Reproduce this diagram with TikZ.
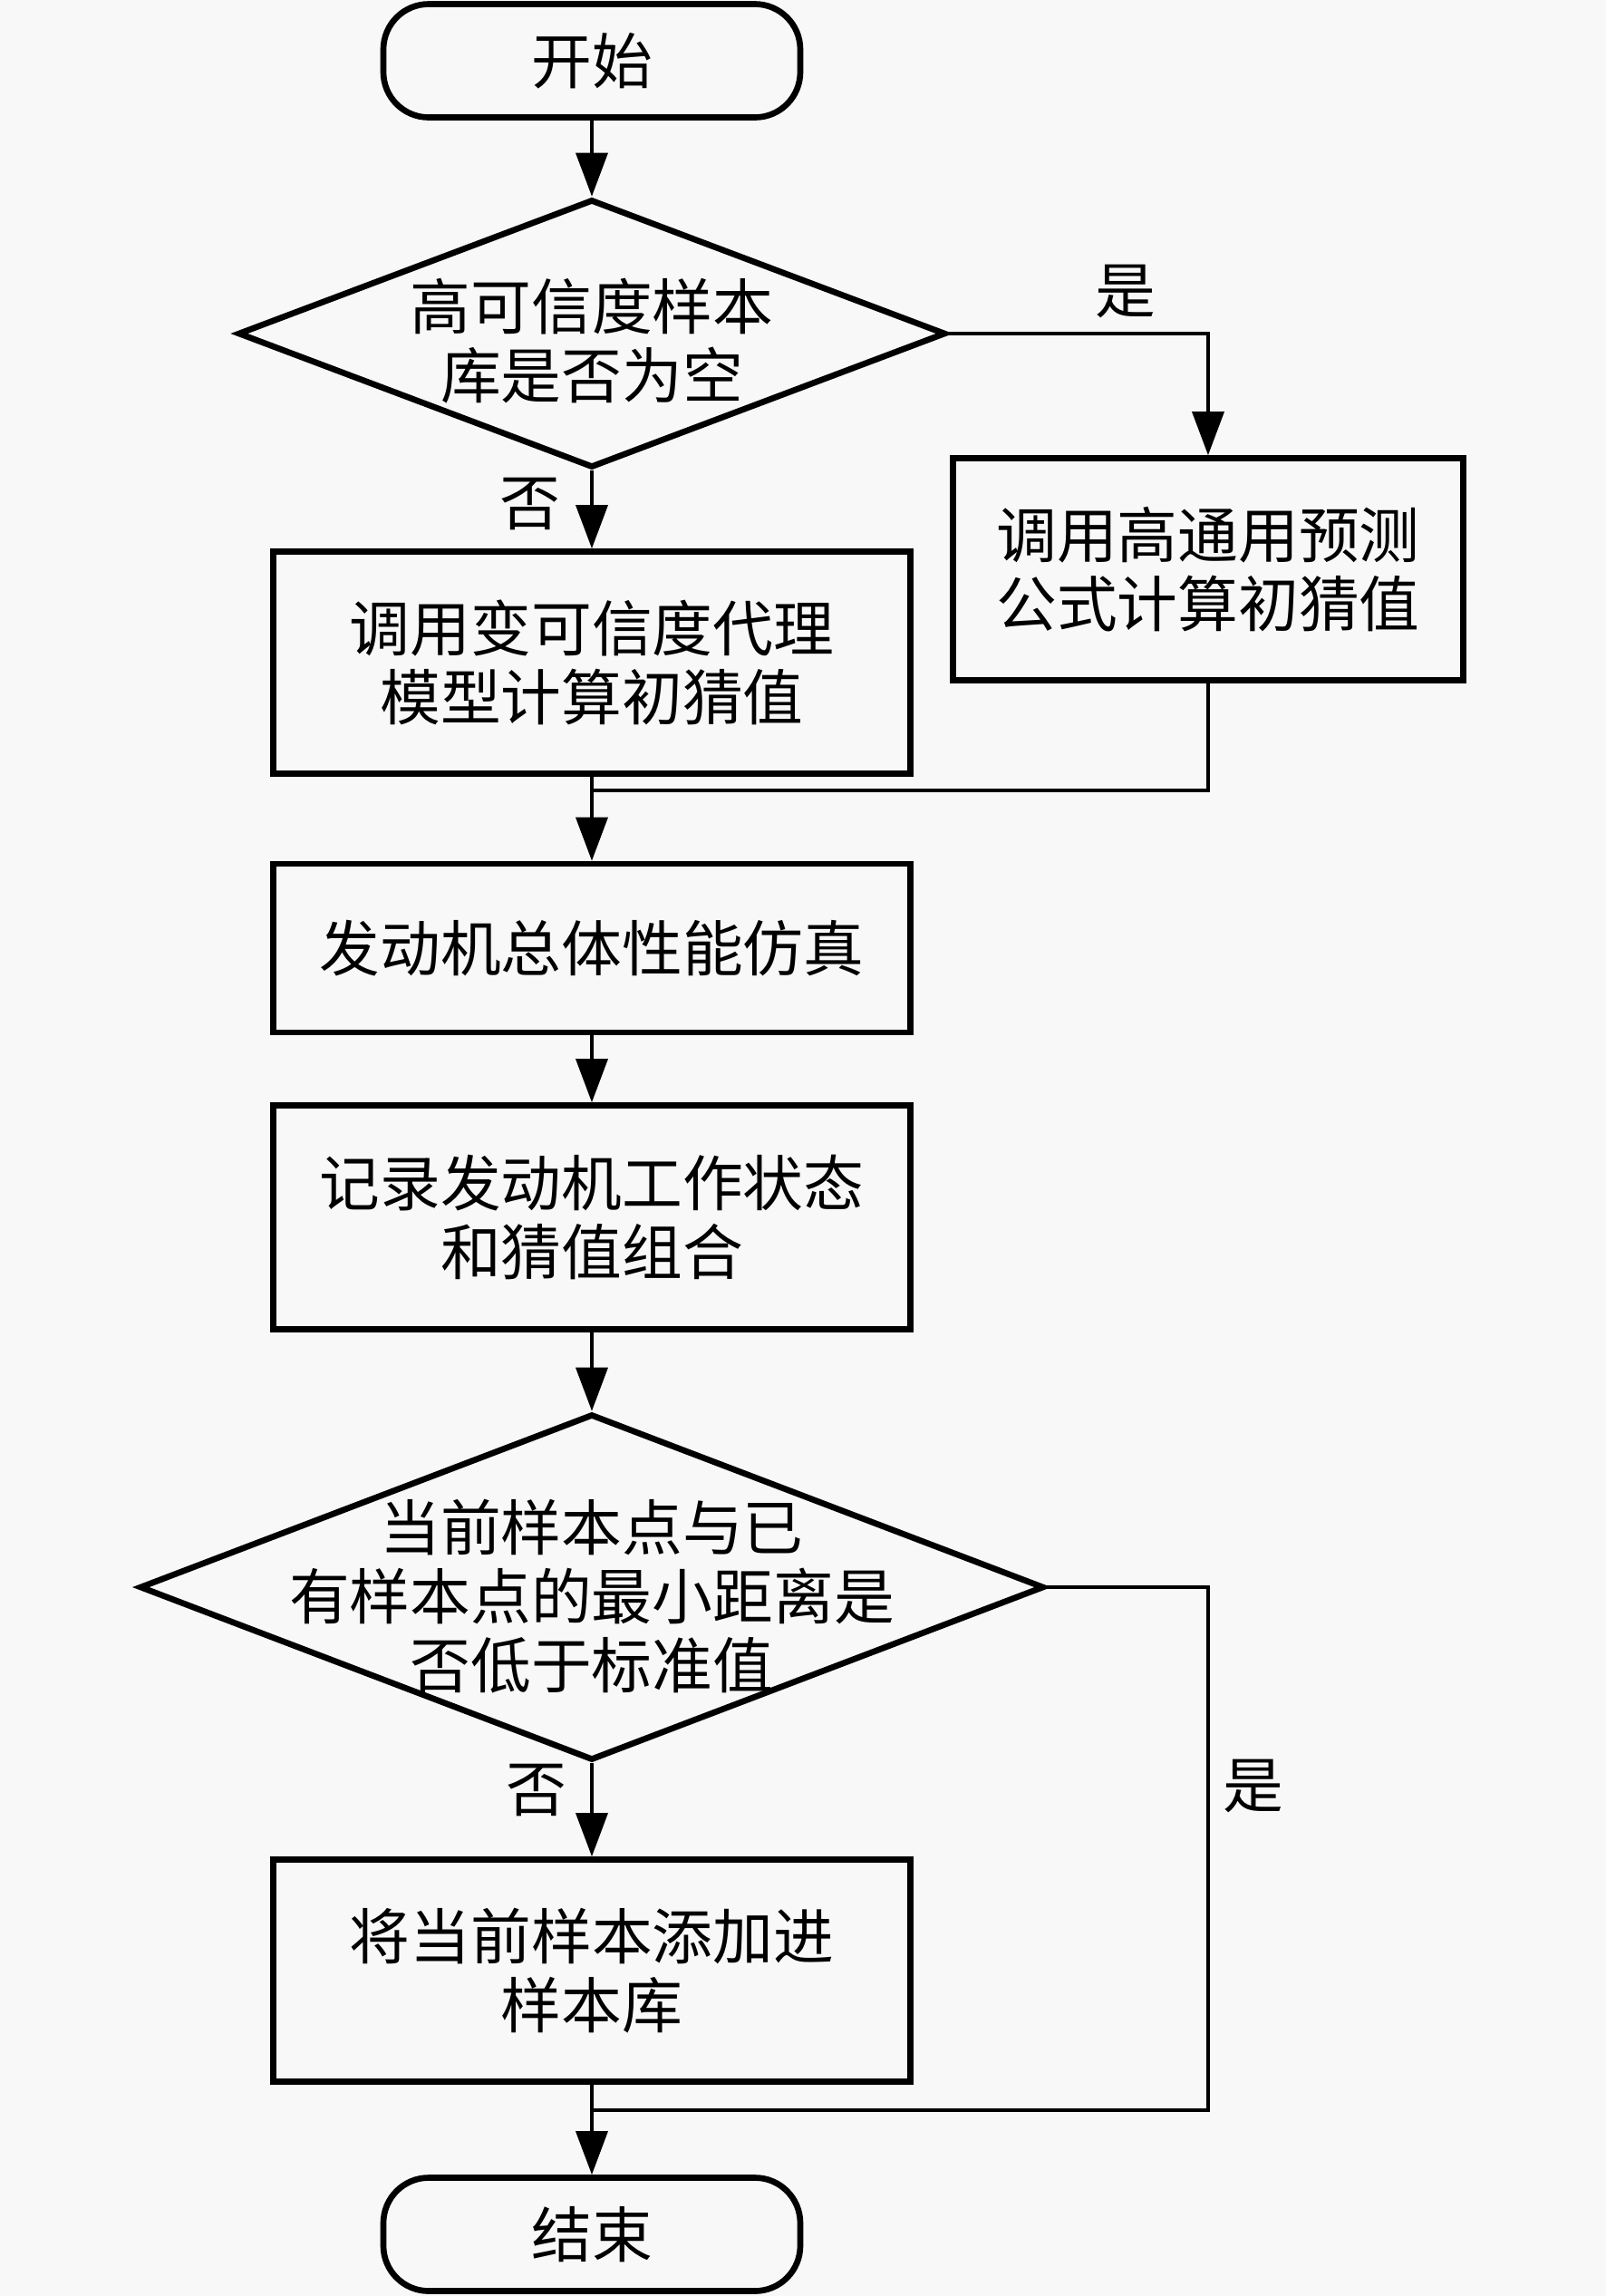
\documentclass[tikz,border=0pt]{standalone}
\usepackage{fontspec}
\newfontfamily\cjk{Noto Sans CJK SC}
\usetikzlibrary{arrows.meta,shapes.geometric}
\definecolor{paper}{RGB}{248,248,248}

\begin{document}
\begin{tikzpicture}[->,>={Triangle[length=4.8mm,width=3.5mm]},line width=1pt,
                    node distance=3cm,font=\cjk\fontsize{19}{21.5}\selectfont]

  \tikzstyle{every node}=[align=center]
  \tikzstyle{terminal}=[rectangle,draw,rounded corners=5mm,line width=1.9pt,
                        minimum width=4.6cm,minimum height=1.25cm]
  \tikzstyle{process}=[rectangle,draw,line width=1.9pt,
                       minimum width=7.03cm,minimum height=2.45cm]
  \tikzstyle{decision}=[diamond,draw,line width=1.9pt,inner sep=0pt]

  \fill[paper,-] (0,0) rectangle (17.72,-25.33);
  \useasboundingbox (0,0) rectangle (17.72,-25.33);

  \node[terminal] (start) at (6.53,-0.67) {开始};
  \node[decision,minimum width=7.81cm,minimum height=2.96cm] (empty)
       [below of=start,node distance=3.01cm] {};
  \node (emptytxt) at ([yshift=-0.08cm]empty) {高可信度样本\\库是否为空};

  \node[process,minimum width=5.63cm] (pred) at (13.33,-6.28)
       {调用高通用预测\\公式计算初猜值};
  \node[process] (novar) [below of=empty,node distance=3.63cm]
       {调用变可信度代理\\模型计算初猜值};
  \coordinate[below of=novar,node distance=1.41cm] (j1);

  \node[process,minimum height=1.86cm] (sim) [below of=novar,node distance=3.15cm]
       {发动机总体性能仿真};
  \node[process,minimum height=2.47cm] (rec) [below of=sim,node distance=2.97cm]
       {记录发动机工作状态\\和猜值组合};

  \node[decision,minimum width=9.98cm,minimum height=3.82cm] (near)
       [below of=rec,node distance=4.08cm] {};
  \node (neartxt) at ([yshift=-0.1cm]near)
       {当前样本点与已\\有样本点的最小距离是\\否低于标准值};

  \node[process] (add) [below of=near,node distance=4.23cm]
       {将当前样本添加进\\样本库};
  \coordinate[below of=add,node distance=1.54cm] (j2);
  \node[terminal] (stop) [below of=add,node distance=2.91cm] {结束};

  \path
  (start) edge (empty)
  (empty) edge node[pos=0.43,left=6pt] {否} (novar)
  (novar) edge (sim)
  (sim)   edge (rec)
  (rec)   edge (near)
  (near)  edge node[pos=0.29,left=4pt] {否} (add)
  (add)   edge (stop)
  ;

  \draw (empty.east) -| node[pos=0.34,above=1pt] {是} (pred.north);
  \draw[-] (pred.south) |- (j1);
  \draw[-] (near.east) -| node[pos=0.69,right=1pt] {是} (j2 -| pred.south) -- (j2);
\end{tikzpicture}
\end{document}
